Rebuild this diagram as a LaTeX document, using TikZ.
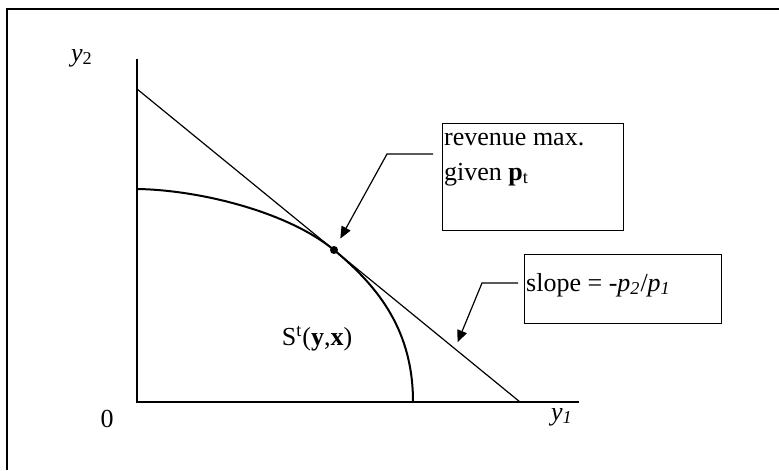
\documentclass[tikz,border=0pt]{standalone}
\usepackage{fontspec}
\setmainfont{Liberation Serif}
\usetikzlibrary{arrows.meta,calc}

\begin{document}
\begin{tikzpicture}[x=0.5pt,y=0.5pt,>={Triangle[length=6pt,width=5pt]},
  every node/.style={font=\fontsize{13}{17.5}\selectfont},
  infobox/.style={draw,line width=.6pt,inner sep=.8pt,anchor=north west},
  leader/.style={->,line width=.6pt}]
\useasboundingbox (0,0) rectangle (779,470);
% frame
\draw[line width=.6pt] (779,461) -- (7,461) -- (7,0);
% axes
\coordinate (O) at (137,68);
\coordinate (ytop) at (137,411);
\coordinate (xend) at (579,68);
\draw[line width=.8pt] (ytop) -- (O) -- (xend);
\node (ylab) at (82,412) {\textit{y}\textsubscript{2}};
\node (zero) at (107,51) {0};
\node (xlab) at (562,53) {\textit{y\textsubscript{1}}};
% price line and frontier
\coordinate (pA) at (137,381);
\coordinate (pB) at (520,68);
\draw[line width=.6pt] (pA) -- (pB);
\coordinate (opt) at (334,220);
\draw[line width=1pt] (137,281) .. controls (200,280) and (288,258) .. (opt)
  .. controls (380,182) and (413,138) .. (413,68);
\fill (opt) circle[radius=2pt];
\node (set) at (317,131) {S\textsuperscript{t}(\textbf{y},\textbf{x})};
% boxes
\node[infobox] (maxbox) at (442,347)
  {\parbox[c][52pt][t]{89pt}{\rule{0pt}{10pt}revenue max.\\given \textbf{p}\textsubscript{t}}};
\node[infobox] (slopebox) at (524,216)
  {\parbox[c][33pt][t]{97pt}{\rule{0pt}{17.5pt}slope = -\textit{p\textsubscript{2}}/\textit{p\textsubscript{1}}}};
\coordinate (touch) at ($(pA)!0.83!(pB)$);
\draw[leader,shorten >=6.5pt] ([xshift=-4.5pt,yshift=-15.5pt]maxbox.north west) -- ++(-46,0) -- (opt);
\draw[leader,shorten >=3.5pt] ([xshift=-3pt,yshift=-14.5pt]slopebox.north west) -- ++(-36,0) -- (touch);
\end{tikzpicture}
\end{document}
